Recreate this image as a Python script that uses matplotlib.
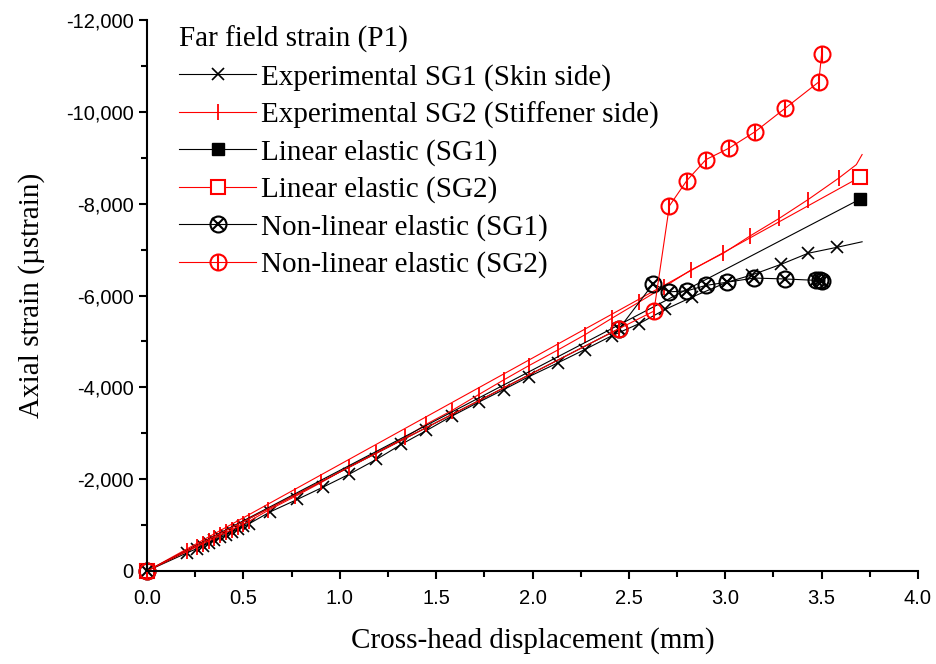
import matplotlib
matplotlib.use("Agg")
import matplotlib.pyplot as plt
from matplotlib.ticker import MultipleLocator, StrMethodFormatter

plt.rcParams["axes.unicode_minus"] = False

# ---------------- data ----------------
exp_sg1_x = [0, 0.21, 0.26, 0.29, 0.32, 0.35, 0.38, 0.41, 0.44, 0.47, 0.50, 0.53,
             0.64, 0.78, 0.915, 1.05, 1.19, 1.32, 1.45, 1.58, 1.72, 1.85, 1.98,
             2.13, 2.27, 2.41, 2.55, 2.69, 2.83, 3.01, 3.14, 3.29, 3.43, 3.58, 3.71]
exp_sg1_y = [0, -400, -490, -550, -610, -670, -730, -790, -850, -910, -970, -1030,
             -1290, -1560, -1830, -2110, -2430, -2760, -3060, -3370, -3675, -3950, -4230,
             -4530, -4820, -5120, -5380, -5700, -5970, -6290, -6450, -6680, -6920, -7050, -7170]

exp_sg2_x = [0, 0.21, 0.26, 0.29, 0.32, 0.35, 0.38, 0.41, 0.44, 0.47, 0.50, 0.53,
             0.63, 0.77, 0.905, 1.047, 1.19, 1.34, 1.45, 1.58, 1.72, 1.85, 1.98,
             2.13, 2.27, 2.41, 2.55, 2.68, 2.82, 2.99, 3.13, 3.28, 3.43, 3.59, 3.68, 3.71]
exp_sg2_y = [0, -430, -530, -595, -655, -715, -780, -840, -900, -965, -1025, -1085,
             -1324, -1627, -1930, -2268, -2580, -2908, -3200, -3490, -3840, -4160, -4470,
             -4810, -5140, -5500, -5850, -6180, -6550, -6920, -7300, -7680, -8090, -8560, -8850, -9070]

lin_sg1_x = [0, 3.70]
lin_sg1_y = [0, -8100]

lin_sg2_x = [0, 3.70]
lin_sg2_y = [0, -8580]

nl_sg1_x = [0, 2.45, 2.625, 2.71, 2.80, 2.90, 3.01, 3.15, 3.31, 3.47, 3.49, 3.50]
nl_sg1_y = [0, -5280, -6250, -6080, -6100, -6220, -6290, -6380, -6360, -6330, -6330, -6320]

nl_sg2_x = [0, 2.45, 2.63, 2.71, 2.80, 2.90, 3.02, 3.156, 3.31, 3.485, 3.50]
nl_sg2_y = [0, -5280, -5660, -7950, -8500, -8960, -9210, -9570, -10075, -10650, -11250]

labels = ["Experimental SG1 (Skin side)",
          "Experimental SG2 (Stiffener side)",
          "Linear elastic (SG1)",
          "Linear elastic (SG2)",
          "Non-linear elastic (SG1)",
          "Non-linear elastic (SG2)"]
legend_title = "Far field strain (P1)"
x_label = "Cross-head displacement (mm)"
y_label = "Axial strain (\u00b5strain)"

# ---------------- figure ----------------
fig = plt.figure(figsize=(9.36, 6.64), dpi=100)
ax = fig.add_axes([147 / 936, 1 - 571 / 664, 771 / 936, 551 / 664])

lw = 0.8
serif = "Liberation Serif"
sans = "Liberation Sans"
fs = 21

# Experimental SG1
h1, = ax.plot(exp_sg1_x, exp_sg1_y, color="black", lw=lw, marker="x", ms=9, mew=1.2,
              markevery=list(range(len(exp_sg1_x) - 1)))
# Experimental SG2
h2, = ax.plot(exp_sg2_x, exp_sg2_y, color="red", lw=lw, marker="|", ms=11, mew=1.3,
              markevery=list(range(len(exp_sg2_x) - 2)))
# Linear elastic SG1
h3, = ax.plot(lin_sg1_x, lin_sg1_y, color="black", lw=lw, marker="s", ms=8.5,
              mfc="black", mec="black")
# Linear elastic SG2
h4, = ax.plot(lin_sg2_x, lin_sg2_y, color="red", lw=lw, marker="s", ms=9.5,
              mfc="white", mec="red", mew=1.5)
# Non-linear elastic SG1
h5a, = ax.plot(nl_sg1_x, nl_sg1_y, color="black", lw=lw, marker="o", ms=11.5,
               mfc="none", mec="black", mew=1.5)
h5b, = ax.plot(nl_sg1_x, nl_sg1_y, ls="none", marker="x", ms=9, mec="black", mew=1.5)
# Non-linear elastic SG2
h6a, = ax.plot(nl_sg2_x, nl_sg2_y, color="red", lw=lw, marker="o", ms=11.5,
               mfc="none", mec="red", mew=1.5)
h6b, = ax.plot(nl_sg2_x, nl_sg2_y, ls="none", marker="|", ms=11.5, mec="red", mew=1.5)

# axes styling
ax.set_xlim(0, 4.0)
ax.set_ylim(0, -12000)
ax.spines["top"].set_visible(False)
ax.spines["right"].set_visible(False)
for s in ("left", "bottom"):
    ax.spines[s].set_linewidth(1.5)
ax.xaxis.set_major_locator(MultipleLocator(0.5))
ax.xaxis.set_minor_locator(MultipleLocator(0.25))
ax.yaxis.set_major_locator(MultipleLocator(2000))
ax.yaxis.set_minor_locator(MultipleLocator(1000))
ax.xaxis.set_major_formatter(StrMethodFormatter("{x:.1f}"))
ax.yaxis.set_major_formatter(StrMethodFormatter("{x:,.0f}"))
ax.tick_params(which="major", direction="out", length=6, width=1.5, labelsize=14.5)
ax.tick_params(axis="x", which="major", pad=7)
ax.tick_params(which="minor", direction="out", length=4, width=1.5)
for t in ax.get_xticklabels() + ax.get_yticklabels():
    t.set_fontfamily(sans)
for ln in ax.lines:
    ln.set_clip_on(False)

ax.set_xlabel(x_label, fontfamily=serif, fontsize=fs, labelpad=14)
ax.set_ylabel(y_label, fontfamily=serif, fontsize=fs, labelpad=15)

leg = ax.legend([h1, h2, h3, h4, (h5a, h5b), (h6a, h6b)], labels,
                title=legend_title, loc="upper left",
                bbox_to_anchor=(32 / 771, 1.0 - 6 / 551), frameon=False,
                prop={"family": serif, "size": fs},
                title_fontproperties={"family": serif, "size": fs},
                alignment="left", handlelength=2.65, handletextpad=0.15,
                labelspacing=0.36, borderaxespad=0.0, borderpad=0.0)

fig.savefig("out.png", dpi=100)
